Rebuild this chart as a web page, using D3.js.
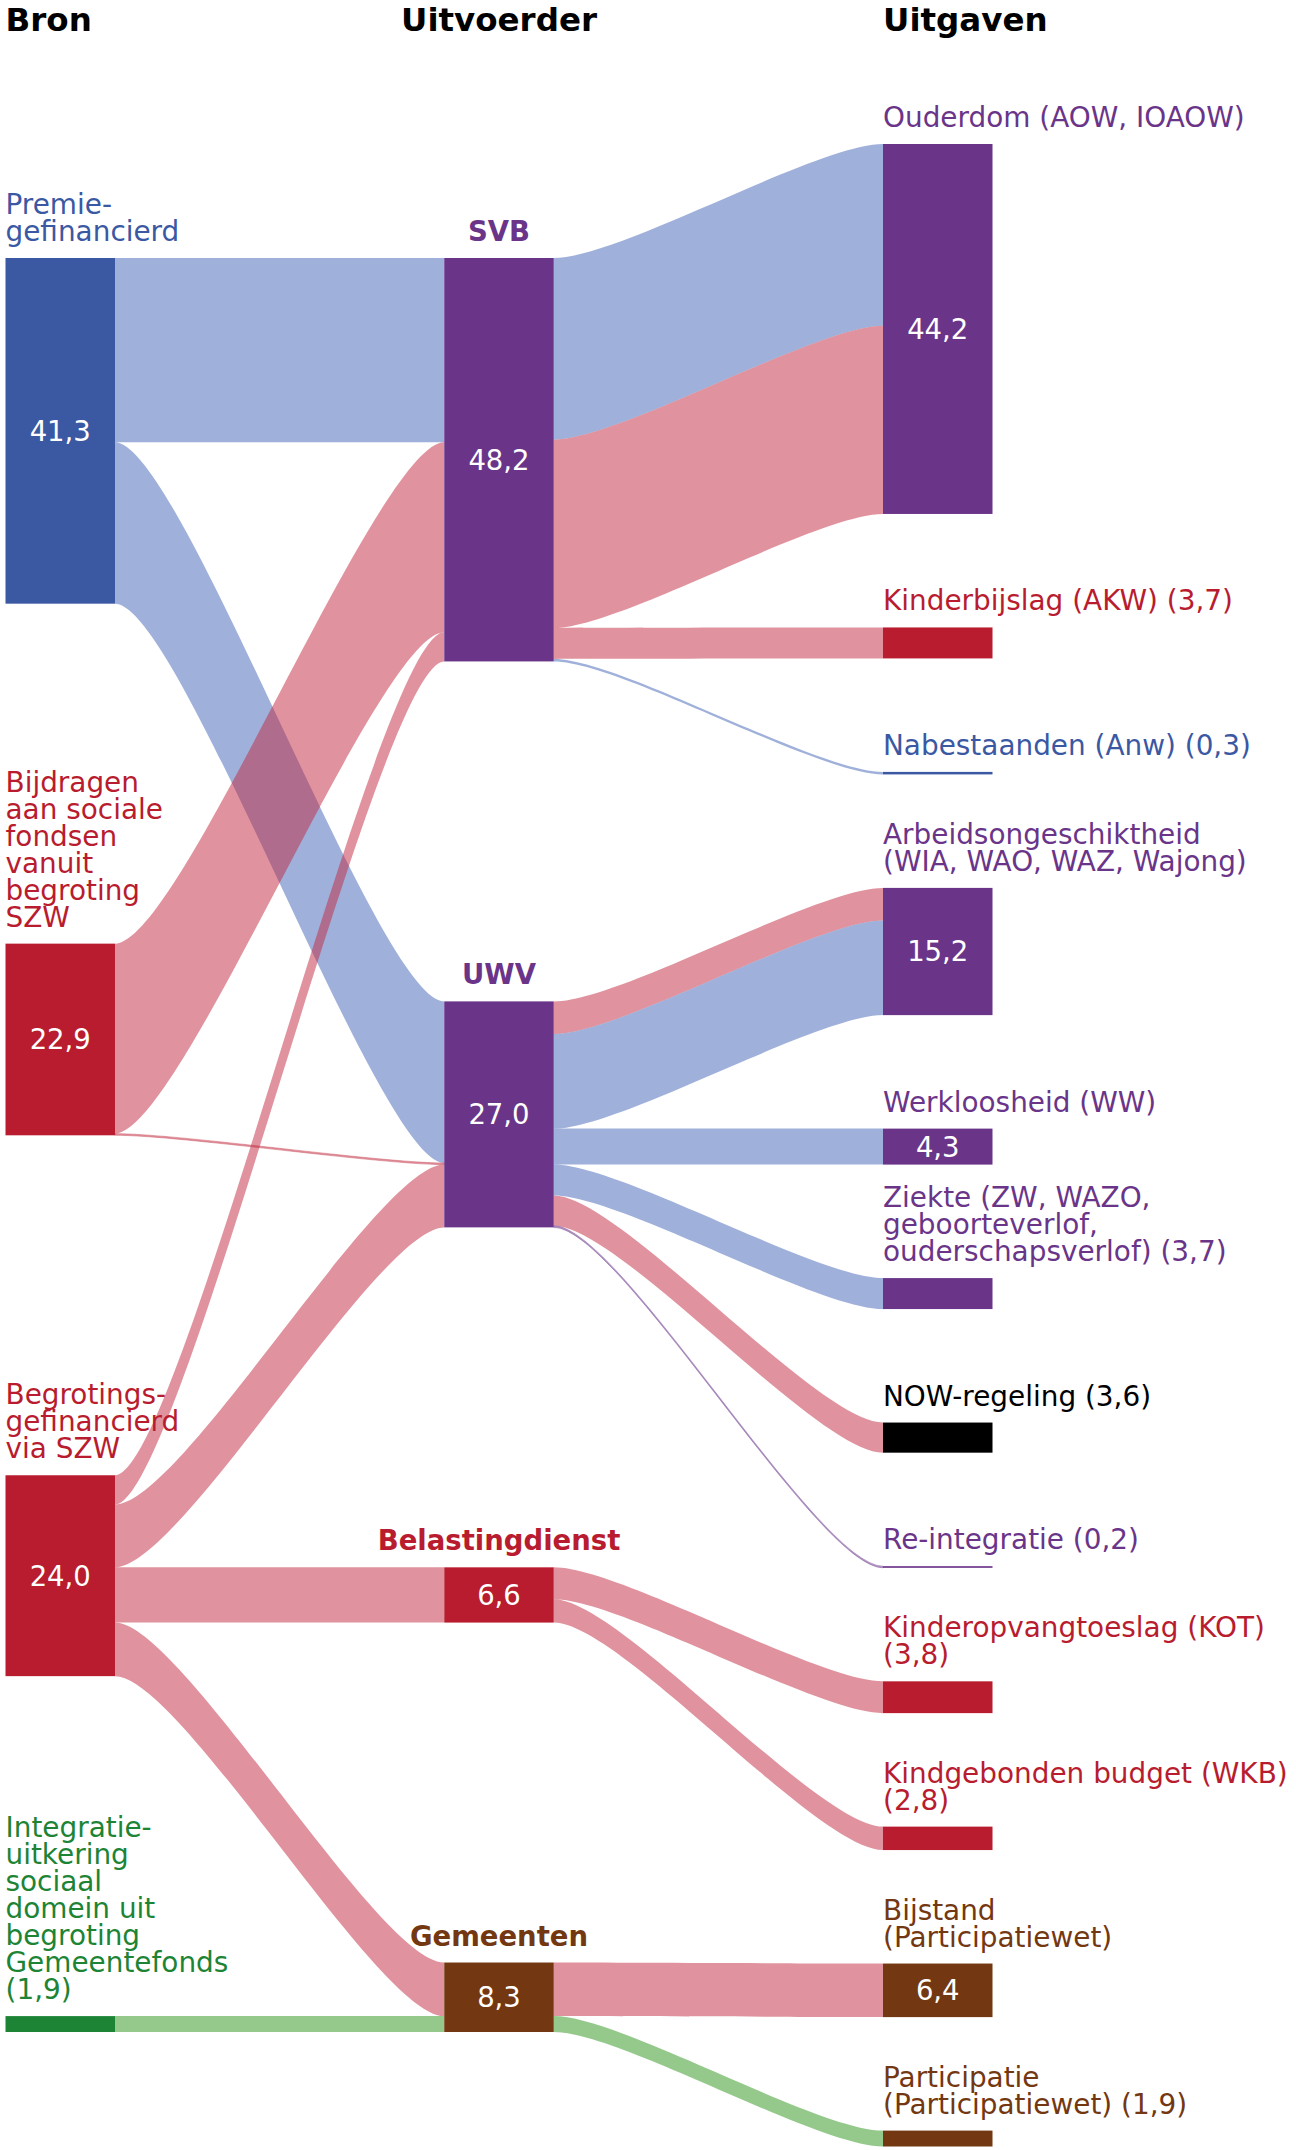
<!DOCTYPE html>
<html>
<head>
<meta charset="utf-8">
<script src="https://cdn.jsdelivr.net/npm/d3@7"></script>
<style>
  html, body { margin: 0; padding: 0; background: #ffffff; }
  svg { display: block; }
  text { font-family: "DejaVu Sans", "Noto Sans", sans-serif; }
</style>
</head>
<body>
<svg id="chart" width="1296" height="2150"></svg>
<script>
// ---------------- DATA ----------------
const columnTitles = ["Bron", "Uitvoerder", "Uitgaven"];

const nodeIds = ["premie", "bijdragen", "begroting", "integratie",
                 "svb", "uwv", "belasting", "gemeenten",
                 "ouderdom", "kinderbijslag", "nabestaanden", "arbeid", "ww", "ziekte",
                 "now", "reintegratie", "kot", "wkb", "bijstand", "participatie"];

const nodeColumn = [0, 0, 0, 0,
                    1, 1, 1, 1,
                    2, 2, 2, 2, 2, 2, 2, 2, 2, 2, 2, 2];

// "{v}" is replaced by the node value
const nodeLabels = [
  ["Premie-", "gefinancierd"],
  ["Bijdragen", "aan sociale", "fondsen", "vanuit", "begroting", "SZW"],
  ["Begrotings-", "gefinancierd", "via SZW"],
  ["Integratie-", "uitkering", "sociaal", "domein uit", "begroting", "Gemeentefonds", "({v})"],
  ["SVB"],
  ["UWV"],
  ["Belastingdienst"],
  ["Gemeenten"],
  ["Ouderdom (AOW, IOAOW)"],
  ["Kinderbijslag (AKW) ({v})"],
  ["Nabestaanden (Anw) ({v})"],
  ["Arbeidsongeschiktheid", "(WIA, WAO, WAZ, Wajong)"],
  ["Werkloosheid (WW)"],
  ["Ziekte (ZW, WAZO,", "geboorteverlof,", "ouderschapsverlof) ({v})"],
  ["NOW-regeling ({v})"],
  ["Re-integratie ({v})"],
  ["Kinderopvangtoeslag (KOT)", "({v})"],
  ["Kindgebonden budget (WKB)", "({v})"],
  ["Bijstand", "(Participatiewet)"],
  ["Participatie", "(Participatiewet) ({v})"]
];

const nodeColorKey = ["blue", "red", "red", "green",
                      "purple", "purple", "red", "brown",
                      "purple", "red", "blue", "purple", "purple", "purple",
                      "black", "purple", "red", "red", "brown", "brown"];

// flows (billion euro), coloured by funding source
const linkSource = ["premie", "premie", "bijdragen", "bijdragen", "begroting", "begroting", "begroting", "begroting", "integratie",
                    "svb", "svb", "svb", "svb",
                    "uwv", "uwv", "uwv", "uwv", "uwv", "uwv",
                    "belasting", "belasting", "gemeenten", "gemeenten"];
const linkTarget = ["svb", "uwv", "svb", "uwv", "svb", "uwv", "belasting", "gemeenten", "gemeenten",
                    "ouderdom", "ouderdom", "kinderbijslag", "nabestaanden",
                    "arbeid", "arbeid", "ww", "ziekte", "now", "reintegratie",
                    "kot", "wkb", "bijstand", "participatie"];
const linkValue  = [22.0, 19.3, 22.7, 0.2, 3.5, 7.5, 6.6, 6.4, 1.9,
                    21.7, 22.5, 3.7, 0.3,
                    3.9, 11.3, 4.3, 3.7, 3.6, 0.2,
                    3.8, 2.8, 6.4, 1.9];
const linkFund   = ["blue", "blue", "red", "red", "red", "red", "red", "red", "green",
                    "blue", "red", "red", "blue",
                    "red", "blue", "blue", "blue", "red", "purple",
                    "red", "red", "red", "green"];

// ---------------- STYLE / LAYOUT ----------------
const nodeColors = { blue: "#3b58a3", red: "#b81c2e", green: "#1d8435", purple: "#6a3589", brown: "#733811", black: "#000000" };
const linkColors = { blue: "#3f61b5", red: "#c1273d", green: "#299317", purple: "#6a3589" };
const linkOpacity = 0.5;
const curveFrac = 0.2;   // horizontal position of bezier control points

const W = 1296, H = 2150;
const nodeWidth = 109.5;
const columnX = d3.scaleLinear().domain([0, 2]).range([5.5, 883]);
const columnExtent = [[258, 2032], [258, 2032], [144, 2146.5]];
const heightScale = d3.scaleLinear().domain([0, 10]).range([0, 83.7]);
const fontSize = 27.9, lineGap = 27, labelOffset = 17;
const fmt = v => d3.format(".1f")(v).replace(".", ",");

// ---------------- BUILD ----------------
const nodes = nodeIds.map((id, i) => ({
  id, col: nodeColumn[i], label: nodeLabels[i], colorKey: nodeColorKey[i],
  out: [], inc: []
}));
const byId = new Map(nodes.map(n => [n.id, n]));
const links = linkSource.map((s, i) => {
  const l = { source: byId.get(s), target: byId.get(linkTarget[i]), value: linkValue[i], fund: linkFund[i] };
  l.source.out.push(l); l.target.inc.push(l);
  return l;
});
nodes.forEach(n => {
  const v = n.inc.length ? d3.sum(n.inc, l => l.value) : d3.sum(n.out, l => l.value);
  n.value = Math.round(v * 10) / 10;
  n.h = heightScale(n.value);
  n.x0 = columnX(n.col);
  n.x1 = n.x0 + nodeWidth;
});
// vertical positions per column with equal gaps
d3.range(3).forEach(c => {
  const colNodes = nodes.filter(n => n.col === c);
  const total = d3.sum(colNodes, n => n.h);
  const [a, b] = columnExtent[c];
  const gap = (b - a - total) / (colNodes.length - 1);
  let y = a;
  colNodes.forEach(n => { n.y0 = y; n.y1 = y + n.h; y = n.y1 + gap; });
});
// link stacking
nodes.forEach(n => {
  let y = n.y0;
  n.out.forEach(l => { l.sy = y; l.h = heightScale(l.value); y += l.h; });
  y = n.y0;
  n.inc.forEach(l => { l.ty = y; y += heightScale(l.value); });
});

const svg = d3.select("#chart").attr("viewBox", `0 0 ${W} ${H}`);

function linkPath(l) {
  const x0 = l.source.x1, x1 = l.target.x0;
  const xa = x0 + (x1 - x0) * curveFrac, xb = x1 - (x1 - x0) * curveFrac;
  const p = d3.path();
  p.moveTo(x0, l.sy);
  p.bezierCurveTo(xa, l.sy, xb, l.ty, x1, l.ty);
  p.lineTo(x1, l.ty + l.h);
  p.bezierCurveTo(xb, l.ty + l.h, xa, l.sy + l.h, x0, l.sy + l.h);
  p.closePath();
  return p.toString();
}

svg.append("g").attr("class", "links")
  .selectAll("path").data(links).join("path")
  .attr("d", linkPath)
  .attr("fill", d => linkColors[d.fund])
  .attr("fill-opacity", linkOpacity)
  .attr("stroke", d => d.h < 2 ? linkColors[d.fund] : "none")
  .attr("stroke-opacity", 0.5)
  .attr("stroke-width", d => d.h < 2 ? 0.7 : 0);

const gNodes = svg.append("g").attr("class", "nodes");
gNodes.selectAll("rect").data(nodes).join("rect")
  .attr("x", d => d.x0).attr("y", d => d.y0)
  .attr("width", nodeWidth).attr("height", d => Math.max(d.h, 1))
  .attr("fill", d => nodeColors[d.colorKey]);

// values inside nodes (when not part of the label)
gNodes.selectAll("text.val").data(nodes.filter(n => !n.label.join(" ").includes("{v}")))
  .join("text").attr("class", "val")
  .attr("x", d => (d.x0 + d.x1) / 2)
  .attr("y", d => (d.y0 + d.y1) / 2)
  .attr("dy", "0.36em")
  .attr("text-anchor", "middle")
  .attr("fill", "#ffffff")
  .attr("font-size", 27.5)
  .text(d => fmt(d.value));

// node labels
const gLabels = svg.append("g").attr("class", "labels");
nodes.forEach(n => {
  const lines = n.label.map(s => s.replace("{v}", fmt(n.value)));
  const middle = n.col === 1;
  const t = gLabels.append("text")
    .attr("x", middle ? (n.x0 + n.x1) / 2 : n.x0)
    .attr("text-anchor", middle ? "middle" : "start")
    .attr("font-size", middle ? 27.5 : fontSize)
    .attr("font-weight", middle ? "bold" : "normal")
    .attr("fill", nodeColors[n.colorKey]);
  lines.forEach((s, i) => {
    t.append("tspan")
      .attr("x", middle ? (n.x0 + n.x1) / 2 : n.x0)
      .attr("y", n.y0 - labelOffset - (lines.length - 1 - i) * lineGap)
      .text(s);
  });
});

// column titles
svg.append("g").selectAll("text").data(columnTitles).join("text")
  .attr("x", (d, i) => i === 1 ? columnX(i) + nodeWidth / 2 : columnX(i))
  .attr("y", 31)
  .attr("text-anchor", (d, i) => i === 1 ? "middle" : "start")
  .attr("font-size", 32.5)
  .attr("font-weight", "bold")
  .attr("fill", "#000000")
  .text(d => d);
</script>
</body>
</html>
